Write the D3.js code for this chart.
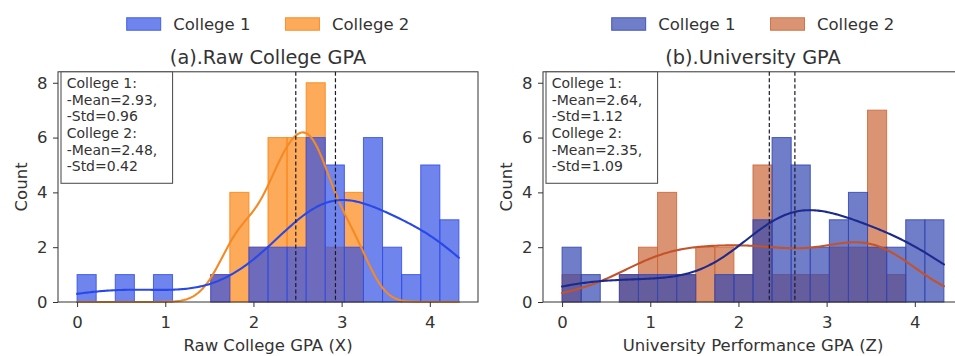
<!DOCTYPE html>
<html><head><meta charset="utf-8">
<script src="https://cdn.jsdelivr.net/npm/d3@7"></script>
<style>
html,body{margin:0;padding:0;background:#fff;overflow:hidden}
svg{display:block;font-family:"DejaVu Sans",sans-serif}
</style></head><body>
<svg id="chart" width="955" height="356"></svg>
<script>
// ---------------- data ----------------
const binEdges = [0, 0.2165, 0.433, 0.6495, 0.866, 1.0825, 1.299, 1.5155, 1.732, 1.9485, 2.165,
                  2.3815, 2.598, 2.8145, 3.031, 3.2475, 3.464, 3.6805, 3.897, 4.1135, 4.33];
const seriesNames = ["College 1", "College 2"];
const rawCollege1 = [1,0,1,0,1,0,0,1,0,2,2,2,6,5,2,6,2,1,5,3];
const rawCollege2 = [0,0,0,0,0,0,0,1,4,2,6,6,8,2,4,0,0,0,0,0];
const uniCollege1 = [2,1,0,1,1,1,1,0,1,1,3,6,5,2,3,4,2,2,3,3];
const uniCollege2 = [1,0,0,1,2,4,1,2,2,1,5,1,1,1,2,2,7,1,0,0];
const rawMeans = [2.93, 2.48];
const rawStds  = [0.96, 0.42];
const uniMeans = [2.64, 2.35];
const uniStds  = [1.12, 1.09];
const xTicks = [0, 1, 2, 3, 4];
const yTicks = [0, 2, 4, 6, 8];
const titles = ["(a).Raw College GPA", "(b).University GPA"];
const xLabels = ["Raw College GPA (X)", "University Performance GPA (Z)"];
const yLabel = "Count";

// ---------------- layout / style ----------------
const panels = [
  {x0: 58, x1: 478, c1: rawCollege1, c2: rawCollege2, means: rawMeans, stds: rawStds,
   fill: ["#3250e6", "#fc8616"], line: ["#2a48e6", "#f48a26"], ylabX: 26.7},
  {x0: 543, x1: 963, c1: uniCollege1, c2: uniCollege2, means: uniMeans, stds: uniStds,
   fill: ["#3346b0", "#cc6637"], line: ["#1c2a8c", "#c2532a"], ylabX: 511.7}
];
const yTop = 71.8, yBot = 302;
const barAlpha = 0.7;
const svg = d3.select("#chart");

function kdeCurve(counts) {
  const centers = counts.map((c, i) => (binEdges[i] + binEdges[i + 1]) / 2);
  const n = d3.sum(counts);
  const mean = d3.sum(counts.map((c, i) => c * centers[i])) / n;
  const v = d3.sum(counts.map((c, i) => c * (centers[i] - mean) ** 2)) / (n - 1);
  const bw = Math.sqrt(v) * Math.pow(n, -0.2);
  const bwidth = binEdges[1] - binEdges[0];
  const lo = binEdges[0], hi = binEdges[binEdges.length - 1];
  const grid = d3.range(0, 241).map(k => lo + (hi - lo) * k / 240);
  return grid.map(x => [x,
    d3.sum(counts.map((c, i) => c * Math.exp(-0.5 * ((x - centers[i]) / bw) ** 2))) /
      (bw * Math.sqrt(2 * Math.PI)) * bwidth]);
}

panels.forEach((p, pi) => {
  const lo = binEdges[0], hi = binEdges[binEdges.length - 1];
  const pad = (hi - lo) * 0.05;
  const x = d3.scaleLinear().domain([lo - pad, hi + pad]).range([p.x0, p.x1]);
  const y = d3.scaleLinear().domain([0, 8.4]).range([yBot, yTop]);
  const g = svg.append("g");
  const cx = (p.x0 + p.x1) / 2;

  // bars: College 2 first, College 1 on top
  [[p.c2, 1], [p.c1, 0]].forEach(([counts, si]) => {
    g.append("g").selectAll("rect").data(counts.map((c, i) => ({c, i})).filter(d => d.c > 0))
      .join("rect")
      .attr("x", d => x(binEdges[d.i]))
      .attr("width", d => x(binEdges[d.i + 1]) - x(binEdges[d.i]))
      .attr("y", d => y(d.c))
      .attr("height", d => y(0) - y(d.c))
      .attr("fill", p.fill[si]).attr("fill-opacity", barAlpha)
      .attr("stroke", p.fill[si]).attr("stroke-opacity", 0.85).attr("stroke-width", 1);
  });

  // KDE lines
  const line = d3.line().x(d => x(d[0])).y(d => y(d[1])).curve(d3.curveLinear);
  [[p.c2, 1], [p.c1, 0]].forEach(([counts, si]) => {
    g.append("path").attr("d", line(kdeCurve(counts)))
      .attr("fill", "none").attr("stroke", p.line[si]).attr("stroke-width", 2.1)
      .attr("stroke-linecap", "round");
  });

  // mean lines
  p.means.forEach(m => {
    g.append("line").attr("x1", x(m)).attr("x2", x(m)).attr("y1", yTop).attr("y2", yBot)
      .attr("stroke", "#1a1a2a").attr("stroke-width", 1.2).attr("stroke-dasharray", "4,2.4");
  });

  // axes
  const xa = g.append("g").attr("transform", `translate(0,${yBot})`)
    .call(d3.axisBottom(x).tickValues(xTicks).tickSize(5).tickPadding(9.5).tickFormat(d3.format("d")));
  const ya = g.append("g").attr("transform", `translate(${p.x0},0)`)
    .call(d3.axisLeft(y).tickValues(yTicks).tickSize(5).tickPadding(5.5).tickFormat(d3.format("d")));
  [xa, ya].forEach(a => {
    a.select(".domain").remove();
    a.selectAll(".tick line").attr("stroke", "#333").attr("stroke-width", 1);
    a.selectAll(".tick text").attr("fill", "#333").style("font-size", "16.5px")
      .style("font-family", "DejaVu Sans");
  });
  g.append("rect").attr("x", p.x0).attr("y", yTop).attr("width", p.x1 - p.x0).attr("height", yBot - yTop)
    .attr("fill", "none").attr("stroke", "#333").attr("stroke-width", 1);

  // stats text box
  const lines = [
    seriesNames[0] + ":", "-Mean=" + p.means[0].toFixed(2) + ",", "-Std=" + p.stds[0].toFixed(2),
    seriesNames[1] + ":", "-Mean=" + p.means[1].toFixed(2) + ",", "-Std=" + p.stds[1].toFixed(2)
  ];
  const tb = g.append("g");
  const box = tb.append("rect");
  const tx = p.x0 + 8.7;
  const texts = tb.selectAll("text").data(lines).join("text")
    .attr("x", tx).attr("y", (d, i) => 87.8 + i * 16.7)
    .attr("fill", "#333").style("font-size", "14px").text(d => d);
  let mw = 0; texts.each(function () { mw = Math.max(mw, this.getComputedTextLength()); });
  box.attr("x", tx - 5.7).attr("y", yTop).attr("width", mw + 21).attr("height", 111.5)
    .attr("fill", "#fff").attr("fill-opacity", 0.85).attr("stroke", "#555").attr("stroke-width", 1.1);

  // title, labels
  svg.append("text").attr("x", cx).attr("y", 64).attr("text-anchor", "middle")
    .attr("fill", "#333").style("font-size", "19.3px").text(titles[pi]);
  svg.append("text").attr("x", cx).attr("y", 350.5).attr("text-anchor", "middle")
    .attr("fill", "#333").style("font-size", "16.5px").text(xLabels[pi]);
  svg.append("text").attr("transform", `translate(${p.ylabX},${(yTop + yBot) / 2}) rotate(-90)`)
    .attr("text-anchor", "middle").attr("fill", "#333").style("font-size", "16.5px").text(yLabel);

  // legend
  const lg = svg.append("g");
  const items = seriesNames.map((name, si) => {
    const t = lg.append("text").attr("y", 30).attr("fill", "#333").style("font-size", "16.5px").text(name);
    return {t, w: t.node().getComputedTextLength(), si};
  });
  const pw = 34, ph = 12.5, gap = 12.5, sep = 35;
  const total = items.reduce((s, it) => s + pw + gap + it.w, 0) + sep * (items.length - 1);
  let lx = cx - total / 2;
  items.forEach(it => {
    lg.append("rect").attr("x", lx).attr("y", 24 - ph / 2).attr("width", pw).attr("height", ph)
      .attr("fill", p.fill[it.si]).attr("fill-opacity", barAlpha)
      .attr("stroke", p.fill[it.si]).attr("stroke-opacity", 0.85).attr("stroke-width", 1);
    it.t.attr("x", lx + pw + gap);
    lx += pw + gap + it.w + sep;
  });
});
</script>
</body></html>
